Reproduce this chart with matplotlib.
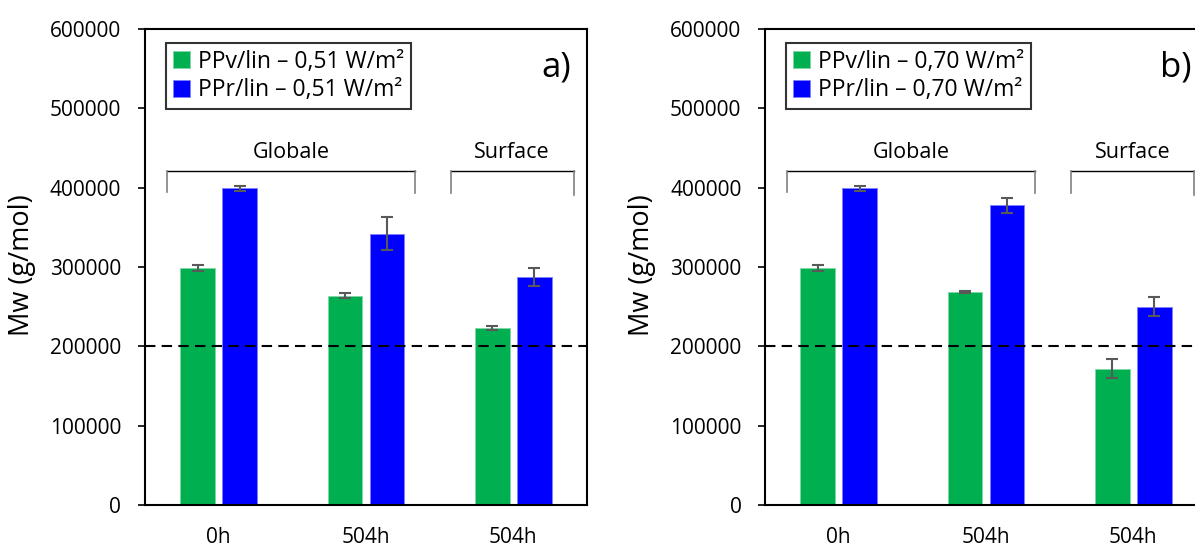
import numpy as np
import matplotlib
matplotlib.use("Agg")
import matplotlib.pyplot as plt

plt.rcParams['font.family'] = ['Open Sans', 'DejaVu Sans']

# data
categories = ["0h", "504h", "504h"]
ppv_a = [299000, 264000, 223000]
ppv_a_err = [4000, 3000, 2000]
ppr_a = [399000, 342000, 287000]
ppr_a_err = [3000, 21000, 11500]

ppv_b = [299000, 268500, 172000]
ppv_b_err = [4000, 1000, 12000]
ppr_b = [399000, 378000, 250000]
ppr_b_err = [3000, 9500, 12000]

labels_a = ["PPv/lin – 0,51 W/m²", "PPr/lin – 0,51 W/m²"]
labels_b = ["PPv/lin – 0,70 W/m²", "PPr/lin – 0,70 W/m²"]
seuil = 200000

green = "#00B050"
blue = "#0000FF"
errc = "#595959"

fig = plt.figure(figsize=(11.95, 5.48), dpi=100)
ax_a = fig.add_axes([0.1213, 0.0785, 0.3699, 0.8686])
ax_b = fig.add_axes([0.6402, 0.0785, 0.3699, 0.8686])


def panel(ax, ppv, ppv_err, ppr, ppr_err, labels, tag):
    x = np.arange(len(categories))
    w = 0.235
    b1 = ax.bar(x - 0.142, ppv, w, color=green, edgecolor="#7fd8a7", linewidth=0.6,
                yerr=ppv_err, capsize=4,
                error_kw=dict(ecolor=errc, elinewidth=1.5, capthick=1.5), zorder=2)
    b2 = ax.bar(x + 0.142, ppr, w, color=blue, edgecolor="#7f7fff", linewidth=0.6,
                yerr=ppr_err, capsize=4,
                error_kw=dict(ecolor=errc, elinewidth=1.5, capthick=1.5), zorder=2)
    ax.axhline(seuil, color="black", ls=(0, (5, 3)), lw=1.5, zorder=3)

    ax.set_xlim(-0.5, 2.5)
    ax.set_ylim(0, 600000)
    ax.set_yticks(np.arange(0, 600001, 100000))
    ax.set_xticks(x)
    ax.set_xticklabels(categories)
    ax.tick_params(axis="x", length=0, pad=16, labelsize=15)
    ax.tick_params(axis="y", length=5, width=1.2, labelsize=15, pad=12)
    for s in ax.spines.values():
        s.set_linewidth(1.5)
        s.set_color("black")
    ax.set_ylabel("Mw (g/mol)", fontsize=19.5)
    ax.yaxis.set_label_coords(-0.247, 0.504)

    # brackets Globale / Surface
    for x0, x1, y_leg, txt in [(-0.35, 1.333, 395000, "Globale"),
                               (1.575, 2.41, 393000, "Surface")]:
        ax.plot([x0, x1], [421500, 421500], color="black", lw=1, zorder=1)
        ax.plot([x0, x0], [421500, y_leg], color="#808080", lw=1.2, zorder=1)
        ax.plot([x1, x1], [421500, y_leg - 2000], color="#808080", lw=1.2, zorder=1)
        ax.text((x0 + x1) / 2, 444000, txt, ha="center", va="center", fontsize=15.5)

    ax.text(2.29, 552000, tag, ha="center", va="center", fontsize=25)

    leg = ax.legend([b1, b2], labels, loc="upper left", bbox_to_anchor=(0.0475, 0.971),
                    borderaxespad=0, fontsize=16.5, handlelength=0.75, handleheight=0.75,
                    handletextpad=0.35, labelspacing=0.2, borderpad=0.3, fancybox=False)
    leg.get_frame().set_edgecolor("black")
    leg.get_frame().set_linewidth(1.5)


panel(ax_a, ppv_a, ppv_a_err, ppr_a, ppr_a_err, labels_a, "a)")
panel(ax_b, ppv_b, ppv_b_err, ppr_b, ppr_b_err, labels_b, "b)")

fig.savefig("out.png", dpi=100)
